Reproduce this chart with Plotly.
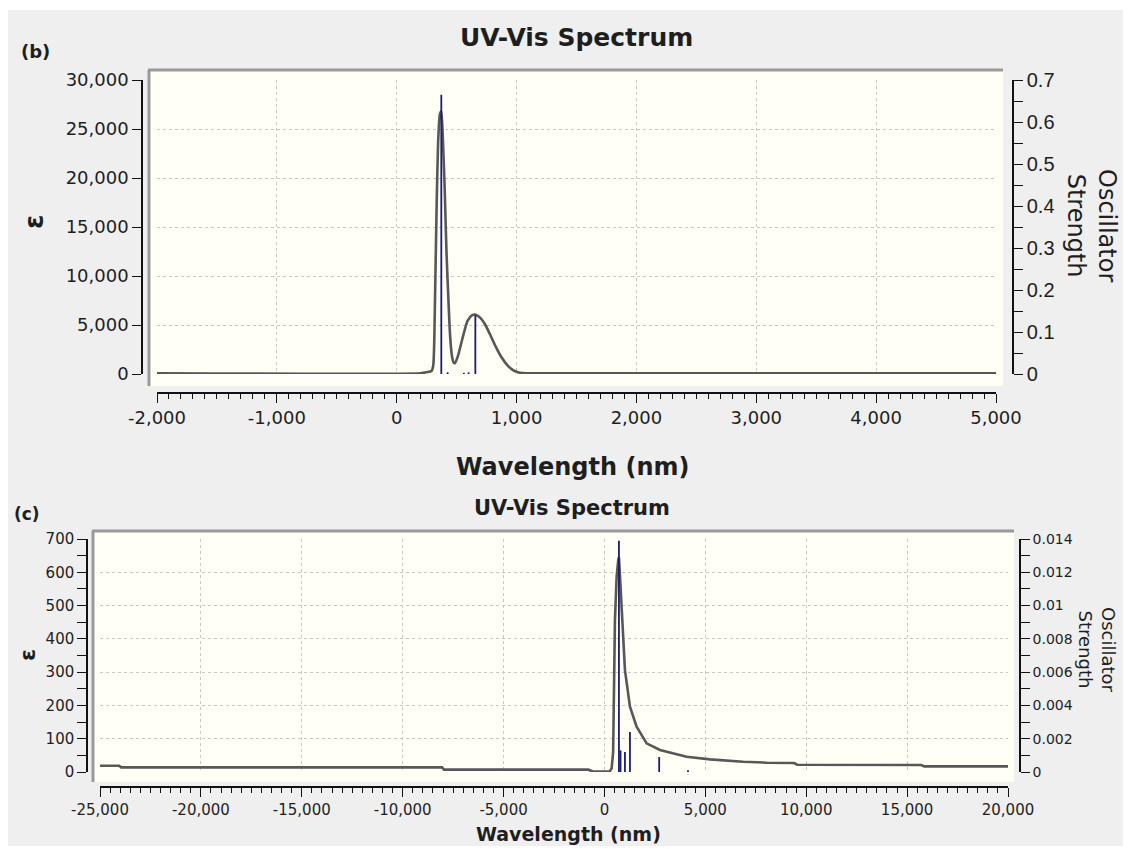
import plotly.graph_objects as go

# The page body keeps its 8 px default margin, so the figure is sized to fit inside the
# 1131x854 window and all positions below are given in window pixels (minus that margin).
WIN_W, WIN_H, BODY = 1131, 854, 8
W, H = WIN_W - 2 * BODY, WIN_H - 2 * BODY

# ---------------- data: panel (b) ----------------
b_wl = [-2000, 200, 250, 290, 305, 320, 332, 345, 360, 372, 385, 400, 415, 430, 445, 460, 475,
        485, 510, 550, 590, 630, 660, 700, 740, 780, 830, 880, 930, 970, 1010, 1050, 1100, 5000]
b_eps = [80, 80, 180, 300, 900, 8000, 16500, 23500, 26500, 26800, 24000, 19000, 12500, 8000, 4000,
         1900, 1150, 1100, 1800, 3700, 5400, 6000, 6050, 5700, 5000, 4000, 2700, 1600, 800, 400,
         180, 90, 80, 80]
b_stick_wl = [372, 425, 560, 600, 656]
b_stick_f = [0.665, 0.004, 0.003, 0.004, 0.14]
b_xticks = [-2000, -1000, 0, 1000, 2000, 3000, 4000, 5000]
b_xlabels = ["-2,000", "-1,000", "0", "1,000", "2,000", "3,000", "4,000", "5,000"]

# ---------------- data: panel (c) ----------------
c_wl = [-25000, -24050, -23950, -8050, -7950, -800, -550, 250, 357, 431, 520, 604, 685, 718, 760,
        847, 1016, 1264, 1594, 2090, 2750, 4073, 5228, 6879, 8035, 9400, 9550, 15700, 15850, 20000]
c_eps = [19, 19, 14, 14, 7, 7, 1, 1, 11, 60, 457, 587, 637, 645, 600, 507, 306, 196, 136, 86, 66,
         46, 38, 31, 28, 27, 22, 21, 17, 17]
c_stick_wl = [718, 797, 1016, 1264, 2712, 4140]
c_stick_f = [0.0139, 0.0013, 0.0012, 0.0024, 0.0009, 0.0001]
c_xticks = [-25000, -20000, -15000, -10000, -5000, 0, 5000, 10000, 15000, 20000]
c_xlabels = ["-25,000", "-20,000", "-15,000", "-10,000", "-5,000", "0", "5,000", "10,000",
             "15,000", "20,000"]


def fx(px):
    return (px - BODY) / W


def fy(py):
    return 1 - (py - BODY) / H


def sticks(xs, ys):
    sx, sy = [], []
    for x, y in zip(xs, ys):
        sx += [x, x, None]
        sy += [0, y, None]
    return sx, sy


CURVE = "#575757"
STICK = "#1c1c70"
GRID = "#c8c8c8"
FONT = "DejaVu Sans"
TXT = "#1e1e1e"

fig = go.Figure()

fig.add_trace(go.Scatter(x=b_wl, y=b_eps, mode="lines", xaxis="x", yaxis="y",
                         line=dict(color=CURVE, width=2.6, shape="spline", smoothing=0.6),
                         hoverinfo="skip", showlegend=False))
sx, sy = sticks(b_stick_wl, b_stick_f)
fig.add_trace(go.Scatter(x=sx, y=sy, mode="lines", xaxis="x", yaxis="y2",
                         line=dict(color=STICK, width=1.8), hoverinfo="skip", showlegend=False))

fig.add_trace(go.Scatter(x=c_wl, y=c_eps, mode="lines", xaxis="x2", yaxis="y3",
                         line=dict(color=CURVE, width=2.6), hoverinfo="skip", showlegend=False))
sx, sy = sticks(c_stick_wl, c_stick_f)
fig.add_trace(go.Scatter(x=sx, y=sy, mode="lines", xaxis="x2", yaxis="y4",
                         line=dict(color=STICK, width=1.8), hoverinfo="skip", showlegend=False))

axcommon = dict(showline=True, linecolor="#111111", linewidth=1.5, ticks="outside",
                tickcolor="#111111", tickwidth=1.3, zeroline=False, fixedrange=True,
                automargin=False)

fig.update_layout(
    width=W, height=H, margin=dict(l=0, r=0, t=0, b=0, autoexpand=False),
    paper_bgcolor="white", plot_bgcolor="rgba(0,0,0,0)",
    font=dict(family=FONT, color=TXT),
    # panel (b)
    xaxis=dict(domain=[fx(157), fx(996)], range=[-2000, 5000], anchor="free", position=fy(393),
               tickmode="array", tickvals=b_xticks, ticktext=b_xlabels, ticklen=9,
               tickfont=dict(size=18), showgrid=True, gridcolor=GRID, griddash="dot", gridwidth=1,
               minor=dict(tickmode="linear", tick0=-2000, dtick=100, ticklen=5, ticks="outside",
                          tickcolor="#111111", showgrid=False),
               **axcommon),
    yaxis=dict(domain=[fy(374), fy(80)], range=[0, 30000], anchor="free", position=fx(142),
               dtick=5000, tickformat=",d", ticklen=9, tickfont=dict(size=18),
               showgrid=True, gridcolor=GRID, griddash="dot", gridwidth=1, **axcommon),
    yaxis2=dict(overlaying="y", side="right", range=[0, 0.7], anchor="free", position=fx(1013),
                dtick=0.1, ticklen=9, tickfont=dict(size=20, family="Liberation Sans"),
                showgrid=False,
                minor=dict(dtick=0.05, ticklen=9, ticks="outside", tickcolor="#111111",
                           showgrid=False),
                **axcommon),
    # panel (c)
    xaxis2=dict(domain=[fx(100), fx(1008)], range=[-25000, 20000], anchor="free", position=fy(787),
                tickmode="array", tickvals=c_xticks, ticktext=c_xlabels, ticklen=9,
                tickfont=dict(size=15), showgrid=True, gridcolor=GRID, griddash="dot", gridwidth=1,
                minor=dict(tickmode="linear", tick0=-25000, dtick=500, ticklen=5, ticks="outside",
                           tickcolor="#111111", showgrid=False),
                **axcommon),
    yaxis3=dict(domain=[fy(772), fy(539)], range=[0, 700], anchor="free", position=fx(87),
                dtick=100, ticklen=9, tickfont=dict(size=15),
                showgrid=True, gridcolor=GRID, griddash="dot", gridwidth=1,
                minor=dict(dtick=50, ticklen=9, ticks="outside", tickcolor="#111111",
                           showgrid=False),
                **axcommon),
    yaxis4=dict(overlaying="y3", side="right", range=[0, 0.014], anchor="free", position=fx(1020),
                dtick=0.002, ticklen=9, tickfont=dict(size=14), showgrid=False,
                minor=dict(dtick=0.001, ticklen=9, ticks="outside", tickcolor="#111111",
                           showgrid=False),
                **axcommon),
)

shapes = [
    # grey window background
    dict(type="rect", xref="paper", yref="paper", x0=0, x1=1, y0=0, y1=fy(10),
         fillcolor="#efefef", line=dict(width=0), layer="below"),
    # plot areas
    dict(type="rect", xref="paper", yref="paper", x0=fx(149), x1=fx(1003), y0=fy(386), y1=fy(71),
         fillcolor="#fffff6", line=dict(width=0), layer="below"),
    dict(type="rect", xref="paper", yref="paper", x0=fx(93), x1=fx(1014), y0=fy(782), y1=fy(532),
         fillcolor="#fffff6", line=dict(width=0), layer="below"),
    # frame edges (top + left)
    dict(type="line", xref="paper", yref="paper", x0=fx(148), x1=fx(1003), y0=fy(70), y1=fy(70),
         line=dict(color="#9a9a9a", width=3)),
    dict(type="line", xref="paper", yref="paper", x0=fx(149), x1=fx(149), y0=fy(70), y1=fy(386),
         line=dict(color="#9a9a9a", width=3)),
    dict(type="line", xref="paper", yref="paper", x0=fx(92), x1=fx(1014), y0=fy(531), y1=fy(531),
         line=dict(color="#9a9a9a", width=3)),
    dict(type="line", xref="paper", yref="paper", x0=fx(93), x1=fx(93), y0=fy(531), y1=fy(782),
         line=dict(color="#9a9a9a", width=3)),
]
fig.update_layout(shapes=shapes)


def ann(text, x, y, size, bold=False, angle=0, family=FONT):
    t = f"<b>{text}</b>" if bold else text
    fig.add_annotation(text=t, x=fx(x), y=fy(y), xref="paper", yref="paper", showarrow=False,
                       xanchor="center", yanchor="middle", textangle=angle,
                       font=dict(size=size, family=family, color=TXT))


ann("UV-Vis Spectrum", 576, 38, 25, bold=True)
ann("(b)", 35, 51, 18, bold=True)
ann("ε", 34, 222, 26, bold=True, angle=-90)
ann("Wavelength (nm)", 572, 467, 24, bold=True)
ann("Oscillator<br>Strength", 1092, 225, 24, angle=90)

ann("UV-Vis Spectrum", 572, 508, 21, bold=True)
ann("(c)", 27, 514, 17, bold=True)
ann("ε", 27, 655, 22, bold=True, angle=-90)
ann("Wavelength (nm)", 568, 834, 19, bold=True)
ann("Oscillator<br>Strength", 1097, 650, 18, angle=90)

fig.write_html("out.html")
